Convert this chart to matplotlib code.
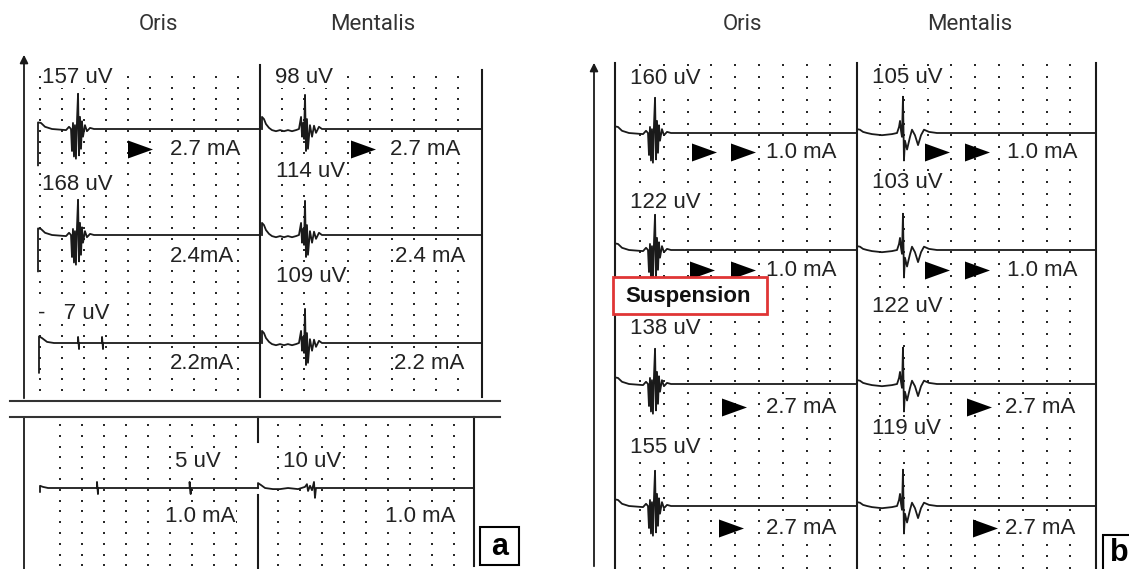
import numpy as np
import matplotlib.pyplot as plt
from matplotlib.patches import Rectangle

plt.rcParams['font.family'] = ['Liberation Sans', 'DejaVu Sans']

# ---------------- data ----------------
# waveform templates: time after stimulus (ms), deflection (divisions, + = up)
oris_t = [0, 0, 0.27, 0.64, 1.27, 2.55, 2.82, 3.0, 3.09, 3.18, 3.27, 3.36, 3.45, 3.55, 3.64,
          3.73, 3.82, 3.91, 4.0, 4.09, 4.27, 4.45, 4.73, 5.09]
oris_v = [-3.3, 0.6, 0.55, 0.2, 0, -0.1, 0.2, 0, -2.0, 0.55, -2.5, 0.35, -2.7, 0.9, 3.2,
          -2.4, 1.1, -1.8, 0.7, -0.7, 0.35, -0.2, 0.1, 0]

ment_a_t = [0, 0, 0.18, 0.36, 0.64, 0.91, 1.27, 1.64, 2.0, 2.36, 2.73, 3.09, 3.36, 3.55, 3.64,
            3.73, 3.82, 3.91, 4.0, 4.09, 4.18, 4.36, 4.55, 4.73, 4.91, 5.18, 5.45]
ment_a_v = [0, 1.1, 0.9, 0.45, 0.1, -0.1, -0.2, -0.1, -0.2, -0.1, -0.2, -0.1, 0, 1.1, -0.7,
            0.55, -0.9, 3.1, -2.0, 0.9, -1.8, 0.35, -0.7, 0.3, -0.35, 0.2, 0]

ment_b_t = [0, 0, 0.27, 0.55, 0.91, 1.36, 2.27, 3.18, 3.64, 3.82, 3.91, 4.0, 4.09, 4.18, 4.27,
            4.36, 4.55, 4.82, 5.0, 5.27, 5.55, 5.82, 6.09, 6.55, 7.27]
ment_b_v = [0, 0.35, 0.3, 0.1, 0, -0.1, -0.2, -0.1, 0, 0.55, 1.1, 0.2, -0.35, 3.3, -2.5,
            -0.7, -1.5, -0.35, 0.3, -0.2, -1.1, -0.2, 0.3, 0.1, 0]

low_t = [0, 0, 0.27, 0.73, 1.36, 3.55, 3.55, 3.64, 3.64, 5.73, 5.73, 5.82, 5.82]
low_v = [-2.7, 0.6, 0.45, 0.1, 0, 0, 0.55, -0.55, 0, 0, 0.55, -0.55, 0]

flat_o_t = [0, 0, 0.27, 0.73, 5.18, 5.18, 5.27, 5.27, 13.6, 13.6, 13.7, 13.7]
flat_o_v = [-0.35, 0.2, 0.1, 0, 0, 0.55, -0.55, 0, 0, 0.55, -0.55, 0]

flat_m_t = [0, 0, 0.27, 0.64, 1.36, 2.0, 2.73, 3.64, 4.27, 4.45, 4.55, 4.73, 4.91, 5.09, 5.18, 5.27, 5.64]
flat_m_v = [0, 0.45, 0.27, 0, -0.1, -0.1, 0, -0.1, 0.1, 0.35, -0.27, 0.2, -0.2, 0.55, -0.9, 0, 0]

shapes = {'oris': (oris_t, oris_v), 'ment_a': (ment_a_t, ment_a_v), 'ment_b': (ment_b_t, ment_b_v),
          'low': (low_t, low_v), 'flat_o': (flat_o_t, flat_o_v), 'flat_m': (flat_m_t, flat_m_v)}

# panel a
a_oris_amp = ['157 uV', '168 uV', '-   7 uV', '5 uV']
a_ment_amp = ['98 uV', '114 uV', '109 uV', '10 uV']
a_oris_cur = ['2.7 mA', '2.4mA', '2.2mA', '1.0 mA']
a_ment_cur = ['2.7 mA', '2.4 mA', '2.2 mA', '1.0 mA']
a_oris_shape = ['oris', 'oris', 'low', 'flat_o']
a_ment_shape = ['ment_a', 'ment_a', 'ment_a', 'flat_m']
a_arrows = [1, 0, 0, 0]

# panel b
b_oris_amp = ['160 uV', '122 uV', '138 uV', '155 uV']
b_ment_amp = ['105 uV', '103 uV', '122 uV', '119 uV']
b_cur = ['1.0 mA', '1.0 mA', '2.7 mA', '2.7 mA']
b_arrows = [2, 2, 1, 1]

# ---------------- layout (pixels) ----------------
PX_MS = 11.0
PX_DIV = 11.0
INK = '#1a1a1a'

fig = plt.figure(figsize=(11.29, 5.69), dpi=100)
ax = fig.add_axes([0, 0, 1, 1])
ax.set_xlim(0, 1129)
ax.set_ylim(569, 0)
ax.axis('off')

tri = [(-1, -0.72), (1, 0), (-1, 0.72), (-1, -0.72)]


def dots(x_first, x_step, n_cols, y_top, y_bot, y_step):
    for k in range(n_cols):
        x = x_first + k * x_step
        ys = np.arange(y_top, y_bot, y_step)
        ax.plot(np.full(len(ys), x), ys, ls='none', marker='s', ms=1.5, mew=0, color='#2a2a2a', zorder=1)


def trace(x0, x1, y0, shape):
    t, v = shapes[shape]
    xs = np.append(x0 + np.array(t) * PX_MS, x1)
    ys = np.append(y0 - np.array(v) * PX_DIV, y0)
    ax.plot(xs, ys, color=INK, lw=1.3, zorder=3)


def label(x, y, s, **kw):
    ax.text(x, y, s, fontsize=16, color='#222', ha='left', va='center', zorder=4,
            bbox=dict(facecolor='white', edgecolor='none', pad=0.5), **kw)


def arrows(xs, y):
    for x in xs:
        ax.plot(x, y, marker=tri, ms=18, color='black', mew=0, zorder=5)


def vline(x, y0, y1, lw=1.5):
    ax.plot([x, x], [y0, y1], color=INK, lw=lw, zorder=2)


# grid dots
dots(40, 22, 10, 77, 396, 10.8)
dots(282, 22, 9, 77, 396, 10.8)
dots(60, 22, 9, 425, 569, 10.8)
dots(278, 22, 9, 425, 569, 10.8)
dots(640, 23.8, 9, 65, 569, 11.7)
dots(880, 23.8, 9, 65, 569, 11.7)

# headers
for x, s in [(159, 'Oris'), (373, 'Mentalis'), (742, 'Oris'), (970, 'Mentalis')]:
    ax.text(x, 24, s, fontsize=16, color='#333', ha='center', va='center', family=['Roboto', 'DejaVu Sans'])

# ---- panel a frame ----
ax.annotate('', xy=(24, 52), xytext=(24, 401),
            arrowprops=dict(arrowstyle='-|>', lw=1.3, color=INK, mutation_scale=12))
vline(24, 417, 569, lw=1.3)
vline(260, 65, 397)
vline(482, 70, 397)
vline(258, 417, 442)
vline(258, 495, 569)
vline(474, 417, 566)
ax.plot([10, 500], [401, 401], color='#333', lw=1.5)
ax.plot([10, 500], [417, 417], color='#333', lw=1.5)

a_base = [129, 235, 343, 488]
a_amp_y = [77, 184, 313, 461]
a_ment_amp_y = [77, 171, 276, 461]
a_cur_y = [149, 256, 363, 517]
a_oris_x0 = [38, 38, 39, 40]
a_oris_x1 = [260, 260, 260, 258]
a_ment_x0 = [262, 262, 262, 258]
a_ment_x1 = [482, 482, 482, 474]
a_oris_lab_x = [42, 42, 38, 175]
a_ment_lab_x = [275, 276, 276, 283]
a_oris_cur_x = [170, 170, 170, 165]
a_ment_cur_x = [390, 395, 394, 385]

for i in range(4):
    trace(a_oris_x0[i], a_oris_x1[i], a_base[i], a_oris_shape[i])
    trace(a_ment_x0[i], a_ment_x1[i], a_base[i], a_ment_shape[i])
    label(a_oris_lab_x[i], a_amp_y[i], a_oris_amp[i])
    label(a_ment_lab_x[i], a_ment_amp_y[i], a_ment_amp[i])
    label(a_oris_cur_x[i], a_cur_y[i], a_oris_cur[i])
    label(a_ment_cur_x[i], a_cur_y[i], a_ment_cur[i])
    if a_arrows[i]:
        arrows([140], a_cur_y[i])
        arrows([363], a_cur_y[i])

ax.add_patch(Rectangle((480, 527), 39, 38, facecolor='white', edgecolor='black', lw=1.5, zorder=5))
ax.text(499.5, 547, 'a', fontsize=22, fontweight='bold', ha='center', va='center', zorder=6)

# ---- panel b frame ----
ax.annotate('', xy=(594, 60), xytext=(594, 569),
            arrowprops=dict(arrowstyle='-|>', lw=1.3, color=INK, mutation_scale=12))
vline(615, 63, 569)
vline(857, 63, 569)
vline(1096, 63, 569)

b_base = [133, 250, 384, 506]
b_oris_amp_y = [78, 202, 328, 447]
b_ment_amp_y = [77, 182, 306, 428]
b_cur_y = [152, 270, 407, 528]
b_oris_arrow_x = [[704, 743], [702, 743], [734], [731]]
b_ment_arrow_x = [[937, 977], [937, 977], [979], [985]]
b_ment_cur_x = [1007, 1007, 1005, 1005]

for i in range(4):
    trace(615, 857, b_base[i], 'oris')
    trace(857, 1096, b_base[i], 'ment_b')
    label(630, b_oris_amp_y[i], b_oris_amp[i])
    label(872, b_ment_amp_y[i], b_ment_amp[i])
    label(766, b_cur_y[i], b_cur[i])
    label(b_ment_cur_x[i], b_cur_y[i], b_cur[i])
    arrows(b_oris_arrow_x[i][:b_arrows[i]], b_cur_y[i])
    arrows(b_ment_arrow_x[i][:b_arrows[i]], b_cur_y[i])

ax.add_patch(Rectangle((613, 277), 154, 37, facecolor='white', edgecolor='#e03535', lw=2, zorder=6))
ax.text(625, 296, 'Suspension', fontsize=16, fontweight='bold', color='#111', ha='left', va='center', zorder=7)

ax.add_patch(Rectangle((1103, 535), 40, 50, facecolor='white', edgecolor='black', lw=1.5, zorder=5))
ax.text(1119, 553, 'b', fontsize=22, fontweight='bold', ha='center', va='center', zorder=6)

fig.savefig('out.png', dpi=100)
